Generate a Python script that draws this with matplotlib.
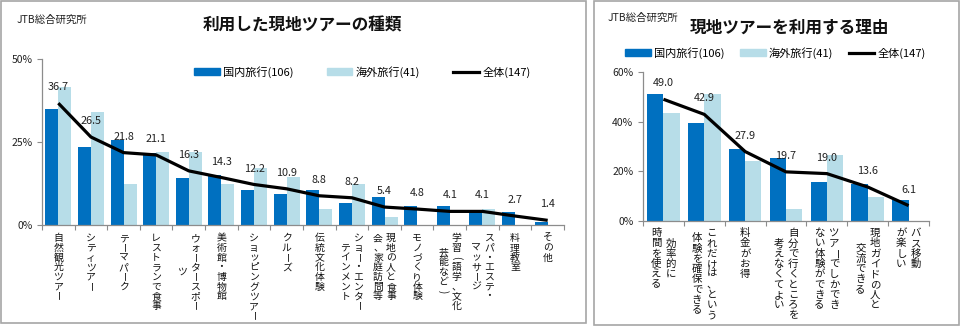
import numpy as np
import matplotlib
matplotlib.use('Agg')
import matplotlib.pyplot as plt
from matplotlib.patches import Rectangle, Patch
from matplotlib.lines import Line2D

plt.rcParams['font.family'] = ['Noto Sans CJK JP', 'DejaVu Sans']

DOM_COLOR = '#0070C0'
OVS_COLOR = '#B7DDE8'
AXIS_COLOR = '#8c8c8c'

# 利用した現地ツアーの種類 (tick labels are stacked vertical columns, right to left)
kind_labels = [
    ['自然観光ツアー'], ['シティツアー'], ['テーマパーク'], ['レストランで食事'],
    ['ウォータースポー', 'ツ'], ['美術館・博物館'], ['ショッピングツアー'], ['クルーズ'],
    ['伝統文化体験'], ['ショー・エンター', 'テインメント'], ['現地の人と食事', '会、家庭訪問等'],
    ['モノづくり体験'], ['学習(語学、文化', '芸能など)'], ['スパ・エステ・', 'マッサージ'],
    ['料理教室'], ['その他'],
]
kind_domestic = [34.9, 23.6, 25.5, 21.7, 14.2, 15.1, 10.4, 9.4,
                 10.4, 6.6, 8.5, 5.7, 5.7, 3.8, 3.8, 0.9]
kind_overseas = [41.5, 34.1, 12.2, 22.0, 22.0, 12.2, 17.1, 14.6,
                 4.9, 12.2, 2.4, 0.0, 0.0, 4.9, 0.0, 0.0]
kind_total = [36.7, 26.5, 21.8, 21.1, 16.3, 14.3, 12.2, 10.9,
              8.8, 8.2, 5.4, 4.8, 4.1, 4.1, 2.7, 1.4]

# 現地ツアーを利用する理由
reason_labels = [
    ['効率的に', '時間を使える'], ['これだけは、という', '体験を確保できる'], ['料金がお得'],
    ['自分で行くところを', '考えなくてよい'], ['ツアーでしかでき', 'ない体験ができる'],
    ['現地ガイドの人と', '交流できる'], ['バス移動', 'が楽しい'],
]
reason_domestic = [51.0, 39.5, 29.1, 25.3, 15.8, 14.9, 8.4]
reason_overseas = [43.6, 51.3, 24.2, 4.7, 26.7, 9.7, 0.0]
reason_total = [49.0, 42.9, 27.9, 19.7, 19.0, 13.6, 6.1]

legend_names = ['国内旅行(106)', '海外旅行(41)', '全体(147)']

ROTATE = set('ー()')


def draw_panel(ax, labels, dom, ovs, tot, ymax, ystep, char_pt, col_pt, first_pt):
    n = len(labels)
    x = np.arange(n)
    w = 0.4
    ax.bar(x - w / 2, dom, w, color=DOM_COLOR, zorder=2)
    ax.bar(x + w / 2, ovs, w, color=OVS_COLOR, zorder=2)
    ax.plot(x, tot, color='black', lw=2.3, zorder=3, solid_capstyle='butt')
    for xi, v in zip(x, tot):
        ax.annotate(f'{v:.1f}', (xi, v), xytext=(0, 11.5), textcoords='offset points',
                    ha='center', va='center', fontsize=7.8, color='#222222', zorder=4)

    ax.set_xlim(-0.5, n - 0.5)
    ax.set_ylim(0, ymax)
    ax.set_yticks(np.arange(0, ymax + 0.1, ystep))
    ax.set_yticklabels([f'{int(t)}%' for t in ax.get_yticks()], fontsize=7.5, color='#222222')
    ax.set_xticks(np.arange(n + 1) - 0.5)
    ax.set_xticklabels([])
    ax.tick_params(axis='both', direction='out', length=3.5, width=0.8, color=AXIS_COLOR)
    for side in ['top', 'right']:
        ax.spines[side].set_visible(False)
    for side in ['left', 'bottom']:
        ax.spines[side].set_color(AXIS_COLOR)
        ax.spines[side].set_linewidth(0.9)

    # vertical (tategaki) category labels, one text per character
    for i, cols in enumerate(labels):
        ncol = len(cols)
        longest = max(len(c) for c in cols)
        for j, col in enumerate(cols):
            dx = ((ncol - 1) / 2 - j) * col_pt
            shift = (longest - len(col)) / 2 * char_pt
            for k, ch in enumerate(col):
                dy = -(first_pt + shift + k * char_pt)
                ax.annotate(ch, (i, 0), xycoords=('data', 'axes fraction'),
                            xytext=(dx, dy), textcoords='offset points',
                            ha='center', va='center', fontsize=char_pt + 0.1,
                            color='#111111', rotation=-90 if ch in ROTATE else 0,
                            annotation_clip=False)


fig = plt.figure(figsize=(9.6, 3.27), dpi=100)
W, H = 960, 327


def fx(px):
    return px / W


def fy(py):
    return 1 - py / H


# panel frames
for x0, y0, x1, y1 in [(1, 1, 586, 323), (594, 1, 959, 325)]:
    fig.patches.append(Rectangle((fx(x0), fy(y1)), fx(x1 - x0), (y1 - y0) / H,
                                 transform=fig.transFigure, fill=False,
                                 edgecolor='#a6a6a6', lw=1.2))

ax1 = fig.add_axes([fx(42), fy(225), fx(564 - 42), (225 - 59) / H])
draw_panel(ax1, kind_labels, kind_domestic, kind_overseas, kind_total,
           50, 25, 7.0, 9.4, 9.4)

ax2 = fig.add_axes([fx(643), fy(220.7), fx(929 - 643), (220.7 - 72) / H])
draw_panel(ax2, reason_labels, reason_domestic, reason_overseas, reason_total,
           60, 20, 7.4, 10.5, 9.0)

fig.text(fx(17), fy(20), 'JTB総合研究所', fontsize=7.5, va='center', ha='left', color='#222222')
fig.text(fx(302), fy(25), '利用した現地ツアーの種類', fontsize=12, fontweight='bold',
         va='center', ha='center', color='#111111')
fig.text(fx(608), fy(18), 'JTB総合研究所', fontsize=7.5, va='center', ha='left', color='#222222')
fig.text(fx(790), fy(28), '現地ツアーを利用する理由', fontsize=12, fontweight='bold',
         va='center', ha='center', color='#111111')

handles = [Patch(color=DOM_COLOR), Patch(color=OVS_COLOR), Line2D([], [], color='black', lw=2.3)]

fig.legend(handles, legend_names, loc='center left', bbox_to_anchor=(fx(194), fy(72)),
           bbox_transform=fig.transFigure, ncol=3, frameon=False, fontsize=8,
           handlelength=2.3, handleheight=0.6, handletextpad=0.3, columnspacing=3.0,
           borderpad=0, borderaxespad=0)
fig.legend(handles, legend_names, loc='center left', bbox_to_anchor=(fx(625), fy(53)),
           bbox_transform=fig.transFigure, ncol=3, frameon=False, fontsize=8,
           handlelength=2.3, handleheight=0.6, handletextpad=0.3, columnspacing=1.4,
           borderpad=0, borderaxespad=0)

fig.savefig('out.png', dpi=100)
